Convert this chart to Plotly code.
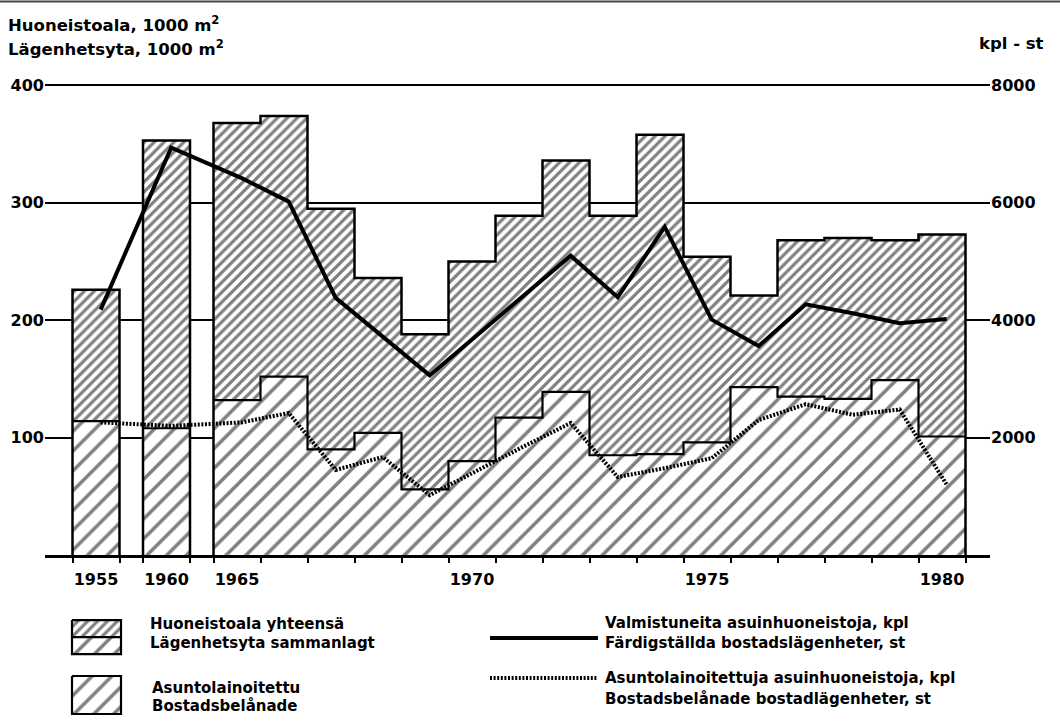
import plotly.graph_objects as go

# ---------------- data ----------------
years = [1955, 1960, 1965, 1966, 1967, 1968, 1969, 1970, 1971, 1972,
         1973, 1974, 1975, 1976, 1977, 1978, 1979, 1980]
year_labels = ["1955", "1960", "1965", "1970", "1975", "1980"]
# Huoneistoala yhteensä / Lägenhetsyta sammanlagt, 1000 m2
total_area = [226, 353, 368, 374, 295, 236, 188, 250, 289, 336,
              289, 358, 254, 221, 268, 270, 268, 273]
# Asuntolainoitettu / Bostadsbelånade, 1000 m2
loan_area = [114, 108, 132, 152, 90, 104, 56, 80, 117, 139,
             85, 86, 96, 143, 135, 133, 149, 101]
# Valmistuneita asuinhuoneistoja, kpl
completed_dw = [4180, 6940, 6420, 6020, 4380, 3730, 3060, 3740, 4420, 5100,
                4390, 5590, 4010, 3560, 4270, 4120, 3950, 4020]
# Asuntolainoitettuja asuinhuoneistoja, kpl
loan_dw = [2260, 2200, 2260, 2420, 1450, 1670, 1020, 1440, 1850, 2250,
           1330, 1480, 1650, 2300, 2570, 2390, 2480, 1200]
left_ticks = [100, 200, 300, 400]
right_ticks = [2000, 4000, 6000, 8000]

# ---------------- geometry ----------------
W, H = 1060, 727
PX_PER_UNIT = 1.175
Y_TOP_VAL = 402
Y0_PX = 555.0
ML, MR, MB = 45, 70, 10
MT = Y0_PX - Y_TOP_VAL * PX_PER_UNIT
PW, PH = W - ML - MR, H - MT - MB
SLOT_PX = 47.0
FIRST_PX = 96.0
LINE_OFF = 0.1


def slot(y):
    if y == 1955:
        return 0.0
    if y == 1960:
        return 1.5
    return 3.0 + (y - 1965)


xs = [slot(y) for y in years]
x_range = [(ML - FIRST_PX) / SLOT_PX, (ML + PW - FIRST_PX) / SLOT_PX]
y_dom0 = (H - MB - Y0_PX) / PH


def paper(px, py):
    return (px - ML) / PW, (H - MB - py) / PH


FONT = "DejaVu Sans"
DENSE = dict(shape="/", size=7, solidity=0.45, fgcolor="black", bgcolor="white")
SPARSE = dict(shape="/", size=14, solidity=0.25, fgcolor="black", bgcolor="white")
DOT = "2px,1.6px"

fig = go.Figure()

# bars: loan part (sparse hatch) + remaining part (dense hatch)
fig.add_trace(go.Bar(x=xs, y=loan_area, width=[1] * len(xs),
                     marker=dict(color="white", line=dict(width=0), pattern=SPARSE),
                     showlegend=False, hoverinfo="skip"))
fig.add_trace(go.Bar(x=xs, y=[t - l for t, l in zip(total_area, loan_area)],
                     width=[1] * len(xs),
                     marker=dict(color="white", line=dict(width=0), pattern=DENSE),
                     showlegend=False, hoverinfo="skip"))

# step outlines derived from the data
groups = [[0], [1], list(range(2, len(years)))]
tx, ty, lx, ly = [], [], [], []
for g in groups:
    left = xs[g[0]] - 0.5
    right = xs[g[-1]] + 0.5
    tx.append(left)
    ty.append(0)
    for i in g:
        tx += [xs[i] - 0.5, xs[i] + 0.5]
        ty += [total_area[i]] * 2
        lx += [xs[i] - 0.5, xs[i] + 0.5]
        ly += [loan_area[i]] * 2
    tx += [right, None]
    ty += [0, None]
    lx.append(None)
    ly.append(None)

fig.add_trace(go.Scatter(x=tx, y=ty, mode="lines", line=dict(color="black", width=2.5),
                         showlegend=False, hoverinfo="skip"))
fig.add_trace(go.Scatter(x=lx, y=ly, mode="lines", line=dict(color="black", width=2.2),
                         showlegend=False, hoverinfo="skip"))

# dwelling lines on right axis
fig.add_trace(go.Scatter(x=[v + LINE_OFF for v in xs], y=completed_dw, yaxis="y2",
                         mode="lines", line=dict(color="black", width=4),
                         showlegend=False, hoverinfo="skip"))
fig.add_trace(go.Scatter(x=[v + LINE_OFF for v in xs], y=loan_dw, yaxis="y2",
                         mode="lines", line=dict(color="black", width=4, dash=DOT),
                         showlegend=False, hoverinfo="skip"))

# ---------------- legend (own pixel axes) ----------------
leg_dom = 0.24
leg_top_px = H - MB - leg_dom * PH


def box(x0, y0, x1, y1):
    return [x0, x1, x1, x0, x0], [y0, y0, y1, y1, y0]


for (x0, y0, x1, y1), pat in [((72, 620, 121, 637), DENSE),
                              ((72, 637, 121, 654), SPARSE),
                              ((72, 676, 121, 714), SPARSE)]:
    bx, by = box(x0, y0, x1, y1)
    fig.add_trace(go.Scatter(x=bx, y=by, xaxis="x3", yaxis="y3", mode="lines", fill="toself",
                             fillcolor="white", fillpattern=pat,
                             line=dict(color="black", width=2.2), showlegend=False,
                             hoverinfo="skip"))
fig.add_trace(go.Scatter(x=[490, 598], y=[638, 638], xaxis="x3", yaxis="y3", mode="lines",
                         line=dict(color="black", width=4), showlegend=False, hoverinfo="skip"))
fig.add_trace(go.Scatter(x=[490, 598], y=[678, 678], xaxis="x3", yaxis="y3", mode="lines",
                         line=dict(color="black", width=4, dash=DOT),
                         showlegend=False, hoverinfo="skip"))

legend_texts = [
    (148, 624, "Huoneistoala yhteensä"),
    (148, 643, "Lägenhetsyta sammanlagt"),
    (150, 688, "Asuntolainoitettu"),
    (150, 706, "Bostadsbelånade"),
    (603, 623, "Valmistuneita asuinhuoneistoja, kpl"),
    (603, 643, "Färdigställda bostadslägenheter, st"),
    (603, 678, "Asuntolainoitettuja asuinhuoneistoja, kpl"),
    (603, 699, "Bostadsbelånade bostadlägenheter, st"),
]
annotations = []
for px, py, t in legend_texts:
    annotations.append(dict(x=px, y=py, xref="x3", yref="y3", text=t, showarrow=False,
                            xanchor="left", yanchor="middle",
                            font=dict(family=FONT, size=15, color="black", weight="bold")))

for px, py, t in [
    (6, 24, "Huoneistoala, 1000 m<sup>2</sup>"),
    (6, 48, "Lägenhetsyta, 1000 m<sup>2</sup>"),
    (977, 43, "kpl - st"),
]:
    xp, yp = paper(px, py)
    annotations.append(dict(x=xp, y=yp, xref="paper", yref="paper", text=t, showarrow=False,
                            xanchor="left", yanchor="middle",
                            font=dict(family=FONT, size=16.5, color="black", weight="bold")))

edges = sorted(set([v - 0.5 for v in xs] + [v + 0.5 for v in xs]))
label_pos = [slot(int(s)) for s in year_labels]

tx0, ty0 = paper(0, 1)
tx1, _ = paper(W, 1)

fig.update_layout(
    width=W, height=H,
    margin=dict(l=ML, r=MR, t=MT, b=MB, autoexpand=False),
    paper_bgcolor="white", plot_bgcolor="white",
    barmode="stack", bargap=0,
    font=dict(family=FONT, size=16, color="black", weight="bold"),
    showlegend=False,
    annotations=annotations,
    shapes=[dict(type="line", xref="paper", yref="paper", x0=tx0, x1=tx1, y0=ty0, y1=ty0,
                 line=dict(color="#444", width=2))],
    xaxis=dict(domain=[0, 1], anchor="y", range=x_range, showgrid=False, zeroline=False,
               showline=True, linecolor="black", linewidth=3,
               tickmode="array", tickvals=label_pos, ticktext=year_labels,
               ticks="outside", ticklen=8, tickcolor="rgba(0,0,0,0)",
               tickfont=dict(family=FONT, size=16, color="black", weight="bold"),
               minor=dict(tickmode="array", tickvals=edges, ticks="outside", ticklen=5,
                          tickwidth=2, tickcolor="black", showgrid=False)),
    yaxis=dict(domain=[y_dom0, 1], anchor="x", range=[0, Y_TOP_VAL], showgrid=True,
               gridcolor="black", gridwidth=2, zeroline=False, showline=False,
               tickmode="array", tickvals=left_ticks, ticks="",
               tickfont=dict(family=FONT, size=16, color="black", weight="bold")),
    yaxis2=dict(overlaying="y", side="right", anchor="x", range=[0, Y_TOP_VAL * 20],
                showgrid=False, zeroline=False, showline=False, tickmode="array",
                tickvals=right_ticks, ticks="",
                tickfont=dict(family=FONT, size=16, color="black", weight="bold")),
    xaxis3=dict(domain=[0, 1], anchor="y3", range=[ML, ML + PW], visible=False),
    yaxis3=dict(domain=[0, leg_dom], anchor="x3", range=[H - MB, leg_top_px], visible=False),
)

fig.write_html("out.html", config={"displayModeBar": False},
               post_script="document.body.style.margin='0';")
